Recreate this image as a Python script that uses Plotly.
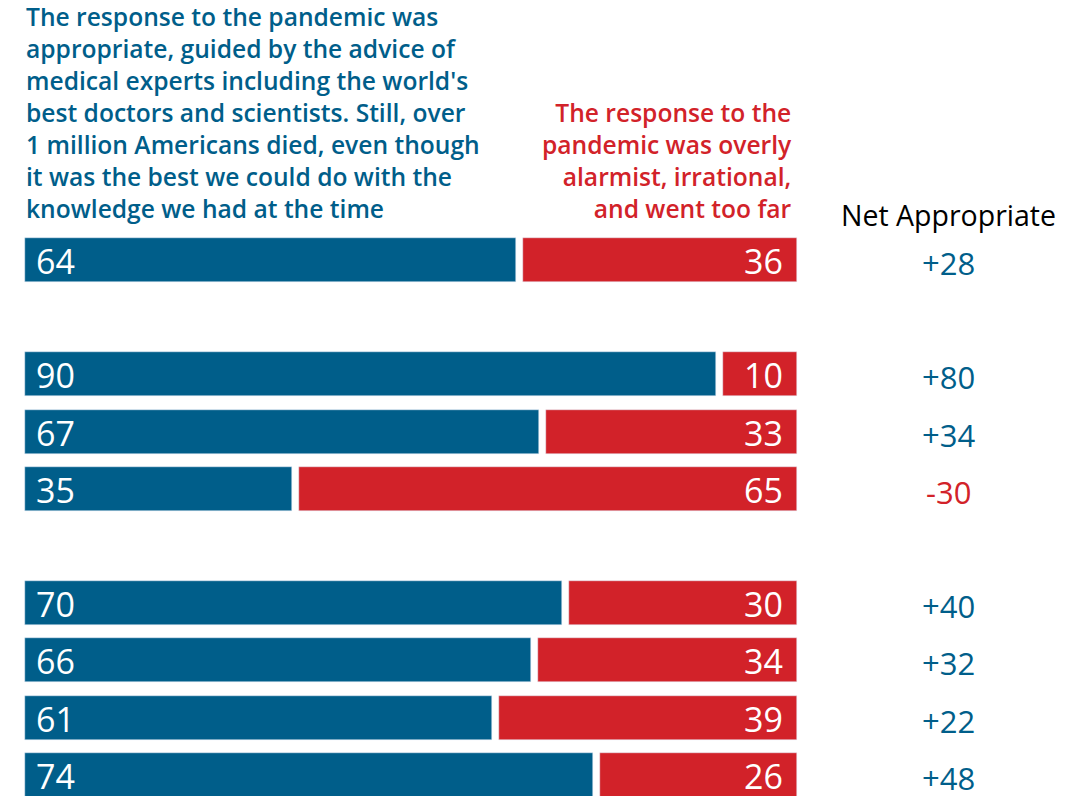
import plotly.graph_objects as go

rows = [0, 2, 3, 4, 6, 7, 8, 9]
appropriate = [64, 90, 67, 35, 70, 66, 61, 74]
too_far = [36, 10, 33, 65, 30, 34, 39, 26]
net = [a - b for a, b in zip(appropriate, too_far)]

BLUE = "#005e8a"
RED = "#d22229"
FONT = "Open Sans"
GAP = 0.45

# page body adds an 8px offset; positions below are in figure pixels
X0, PXU = 17, 7.72          # x pixel of 0, pixels per unit
Y0, PXR = 252, 57.2         # y pixel of row 0, pixels per row
W, H = 1084, 796

blue_x = [a - GAP for a in appropriate]
red_base = [a + GAP for a in appropriate]
red_x = [100 - r for r in red_base]

fig = go.Figure()
fig.add_trace(go.Bar(y=rows, x=blue_x, base=0, orientation="h", marker_color=BLUE,
                     width=0.77, hoverinfo="skip", showlegend=False))
fig.add_trace(go.Bar(y=rows, x=red_x, base=red_base, orientation="h", marker_color=RED,
                     width=0.77, hoverinfo="skip", showlegend=False))

NET_X = (940.5 - X0) / PXU

ann = []
for r, a, b, n in zip(rows, appropriate, too_far, net):
    ann.append(dict(x=0, y=r, text=str(a), xanchor="left", yanchor="middle", xshift=9, yshift=-1,
                    showarrow=False, font=dict(family=FONT, size=34, color="white")))
    ann.append(dict(x=100, y=r, text=str(b), xanchor="right", yanchor="middle", xshift=-12, yshift=-1,
                    showarrow=False, font=dict(family=FONT, size=34, color="white")))
    ann.append(dict(x=NET_X, y=r, text=(f"+{n}" if n > 0 else str(n)), xanchor="center",
                    yanchor="middle", showarrow=False, yshift=-3,
                    font=dict(family=FONT, size=31, color=BLUE if n > 0 else RED)))

blue_head = ("The response to the pandemic was<br>appropriate, guided by the advice of<br>"
             "medical experts including the world's<br>best doctors and scientists. Still, over<br>"
             "1 million Americans died, even though<br>it was the best we could do with the<br>"
             "knowledge we had at the time")
red_head = ("The response to the<br>pandemic was overly<br>alarmist, irrational,<br>and went too far")

ann.append(dict(xref="paper", yref="paper", x=16 / W, y=1 + 10 / H, text=blue_head,
                xanchor="left", yanchor="top", align="left", showarrow=False,
                font=dict(family=FONT, size=24.6, color=BLUE, weight=600)))
ann.append(dict(xref="paper", yref="paper", x=786 / W, y=1 - 86 / H, text=red_head,
                xanchor="right", yanchor="top", align="right", showarrow=False,
                font=dict(family=FONT, size=24.6, color=RED, weight=600)))
ann.append(dict(x=NET_X, y=(207 - Y0) / PXR, text="Net Appropriate", xanchor="center", yanchor="middle",
                showarrow=False, font=dict(family=FONT, size=28.5, color="black")))

fig.update_layout(
    width=W, height=H, margin=dict(l=0, r=0, t=0, b=0),
    paper_bgcolor="white", plot_bgcolor="white",
    barmode="overlay", bargap=0,
    xaxis=dict(range=[-X0 / PXU, (W - X0) / PXU], visible=False, fixedrange=True),
    yaxis=dict(range=[(H - Y0) / PXR, -Y0 / PXR], visible=False, fixedrange=True),
    annotations=ann,
)
fig.write_html("out.html")
